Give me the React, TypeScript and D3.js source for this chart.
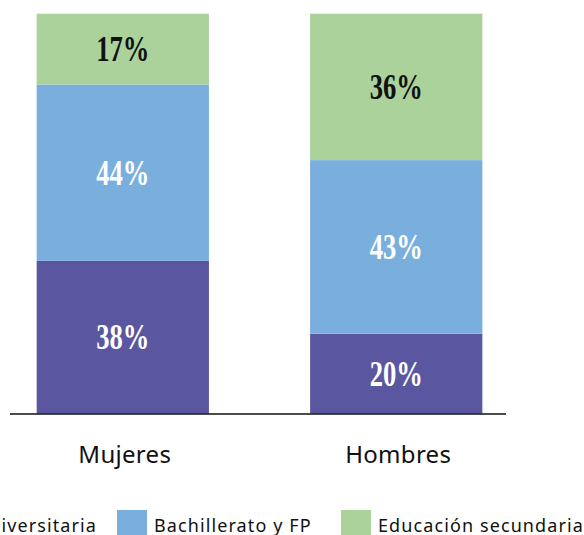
import React, { useEffect, useRef } from 'react';
import * as d3 from 'd3';

// categories (x axis)
const categories = ['Mujeres', 'Hombres'];

// education levels, bottom to top of each stack
const levels = ['Educación universitaria', 'Bachillerato y FP', 'Educación secundaria'];
const levelColors = ['#5b56a0', '#7aafdd', '#abd29b'];
const labelColors = ['#ffffff', '#ffffff', '#111111'];

// share of each level (%)
const universitaria = [38.2, 20.0];
const bachillerato = [44.1, 43.4];
const secundaria = [17.7, 36.6];

// printed labels
const universitariaLabels = ['38%', '20%'];
const bachilleratoLabels = ['44%', '43%'];
const secundariaLabels = ['17%', '36%'];

const WIDTH = 584;
const HEIGHT = 535;
const SANS = '"Noto Sans", sans-serif';

const App = () => {
  const svgRef = useRef<SVGSVGElement | null>(null);

  useEffect(() => {
    const svg = d3.select(svgRef.current);
    svg.selectAll('*').remove();

    const series = [universitaria, bachillerato, secundaria];
    const labels = [universitariaLabels, bachilleratoLabels, secundariaLabels];

    // build a table for d3.stack
    const table = categories.map((c, i) => {
      const row: any = { category: c };
      levels.forEach((l, j) => { row[l] = series[j][i]; });
      return row;
    });
    const stacked = d3.stack().keys(levels)(table);

    const x = d3.scaleBand()
      .domain(categories)
      .range([10, 506])
      .paddingInner(0.37)
      .paddingOuter(0.092)
      .align(0.53);
    const y = d3.scaleLinear().domain([0, 100]).range([413.7, 13.7]);

    // bars
    const layers = svg.append('g')
      .selectAll('g')
      .data(stacked)
      .enter()
      .append('g')
      .attr('fill', (d, i) => levelColors[i]);

    layers.selectAll('rect')
      .data(d => d)
      .enter()
      .append('rect')
      .attr('x', (d: any) => x(d.data.category)!)
      .attr('width', x.bandwidth())
      .attr('y', d => y(d[1]))
      .attr('height', d => y(d[0]) - y(d[1]));

    // value labels
    const fs = 35;
    stacked.forEach((layer, i) => {
      layer.forEach((d: any, k) => {
        const cx = x(d.data.category)! + x.bandwidth() / 2;
        const cy = (y(d[0]) + y(d[1])) / 2;
        svg.append('text')
          .attr('transform', `translate(${cx},${cy + fs * 0.345}) scale(0.76,1)`)
          .attr('text-anchor', 'middle')
          .attr('font-family', '"Liberation Serif", serif')
          .attr('font-weight', 'bold')
          .attr('font-size', fs)
          .attr('fill', labelColors[i])
          .text(labels[i][k]);
      });
    });

    // baseline
    svg.append('line')
      .attr('x1', 10)
      .attr('x2', 506)
      .attr('y1', 414)
      .attr('y2', 414)
      .attr('stroke', '#111')
      .attr('stroke-width', 1.5);

    // category labels
    svg.append('g')
      .selectAll('text')
      .data(categories)
      .enter()
      .append('text')
      .attr('x', d => x(d)! + x.bandwidth() / 2 + 2)
      .attr('y', 463)
      .attr('text-anchor', 'middle')
      .attr('font-family', SANS)
      .attr('font-size', 24)
      .attr('letter-spacing', 0.3)
      .attr('fill', '#111')
      .text(d => d);

    // legend (first item runs off the left edge)
    const swatchX = [null, 117, 341];
    const legend = svg.append('g')
      .attr('font-family', SANS)
      .attr('font-size', 18)
      .attr('letter-spacing', 1.1);
    levels.forEach((l, i) => {
      if (i === 0) {
        const t = legend.append('text')
          .attr('x', 97)
          .attr('y', 531.5)
          .attr('text-anchor', 'end')
          .attr('fill', '#111')
          .text(l);
        const w = (t.node() as SVGTextElement).getComputedTextLength();
        legend.append('rect')
          .attr('x', 97 - w - 37)
          .attr('y', 510)
          .attr('width', 30)
          .attr('height', 30)
          .attr('fill', levelColors[i]);
      } else {
        legend.append('rect')
          .attr('x', swatchX[i]!)
          .attr('y', 510)
          .attr('width', 30)
          .attr('height', 30)
          .attr('fill', levelColors[i]);
        legend.append('text')
          .attr('x', swatchX[i]! + 37)
          .attr('y', 531.5)
          .attr('fill', '#111')
          .text(l);
      }
    });
  }, []);

  return (
    <svg
      ref={svgRef}
      width={WIDTH}
      height={HEIGHT}
      style={{ position: 'absolute', left: 0, top: 0, background: '#fff' }}
    ></svg>
  );
};

export default App;
